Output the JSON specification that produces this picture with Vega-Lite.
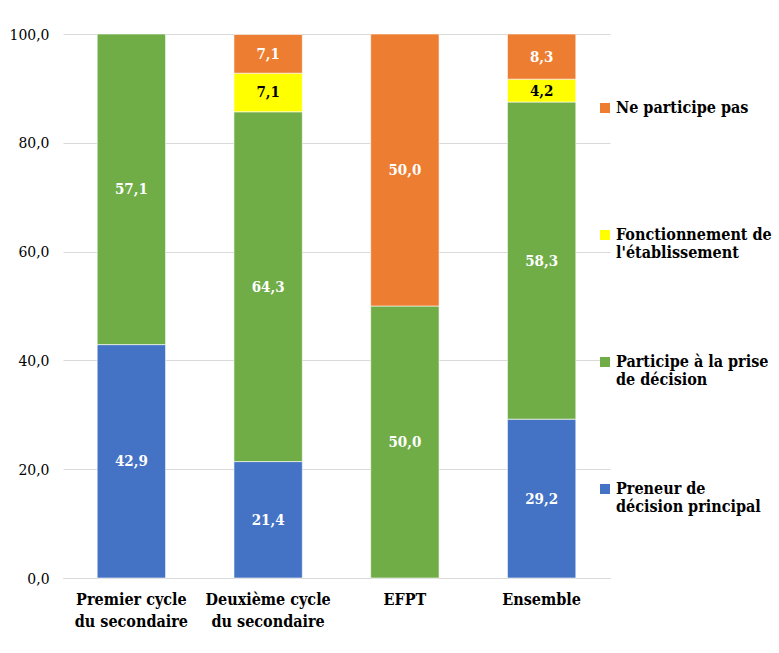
{
  "$schema": "https://vega.github.io/schema/vega-lite/v6.json",
  "width": 547,
  "height": 544,
  "autosize": {"type": "none"},
  "padding": {"left": 63, "top": 34, "right": 169, "bottom": 75},
  "background": "white",
  "config": {
    "locale": {"number": {"decimal": ",", "thousands": " ", "grouping": [3], "currency": ["", " €"]}},
    "view": {"stroke": null}
  },
  "data": {
    "values": [
      {"niveau": "Premier cycle du secondaire", "statut": "Preneur de décision principal", "rang": 1, "pct": 42.9},
      {"niveau": "Premier cycle du secondaire", "statut": "Participe à la prise de décision", "rang": 2, "pct": 57.1},
      {"niveau": "Deuxième cycle du secondaire", "statut": "Preneur de décision principal", "rang": 1, "pct": 21.4},
      {"niveau": "Deuxième cycle du secondaire", "statut": "Participe à la prise de décision", "rang": 2, "pct": 64.3},
      {"niveau": "Deuxième cycle du secondaire", "statut": "Fonctionnement de l'établissement", "rang": 3, "pct": 7.1},
      {"niveau": "Deuxième cycle du secondaire", "statut": "Ne participe pas", "rang": 4, "pct": 7.1},
      {"niveau": "EFPT", "statut": "Participe à la prise de décision", "rang": 2, "pct": 50.0},
      {"niveau": "EFPT", "statut": "Ne participe pas", "rang": 4, "pct": 50.0},
      {"niveau": "Ensemble", "statut": "Preneur de décision principal", "rang": 1, "pct": 29.2},
      {"niveau": "Ensemble", "statut": "Participe à la prise de décision", "rang": 2, "pct": 58.3},
      {"niveau": "Ensemble", "statut": "Fonctionnement de l'établissement", "rang": 3, "pct": 4.2},
      {"niveau": "Ensemble", "statut": "Ne participe pas", "rang": 4, "pct": 8.3}
    ]
  },
  "transform": [
    {"stack": "pct", "groupby": ["niveau"], "sort": [{"field": "rang", "order": "ascending"}], "as": ["y0", "y1"]},
    {"calculate": "(datum.y0 + datum.y1) / 2", "as": "ymid"}
  ],
  "encoding": {
    "x": {
      "field": "niveau",
      "type": "nominal",
      "sort": ["Premier cycle du secondaire", "Deuxième cycle du secondaire", "EFPT", "Ensemble"],
      "scale": {"paddingInner": 0.5, "paddingOuter": 0.25},
      "axis": {
        "title": null,
        "labelAngle": 0,
        "labelFont": "DejaVu Serif Condensed",
        "labelFontSize": 16,
        "labelFontWeight": "bold",
        "labelColor": "#000000",
        "labelPadding": 13,
        "labelLineHeight": 22,
        "labelBaseline": "top",
        "labelExpr": "datum.label == 'Premier cycle du secondaire' ? ['Premier cycle', 'du secondaire'] : datum.label == 'Deuxième cycle du secondaire' ? ['Deuxième cycle', 'du secondaire'] : datum.label",
        "ticks": false,
        "domainColor": "#D9D9D9",
        "domainWidth": 1,
        "grid": false
      }
    }
  },
  "layer": [
    {
      "mark": {"type": "bar", "stroke": "white", "strokeWidth": 0.6},
      "encoding": {
        "y": {
          "field": "y0",
          "type": "quantitative",
          "scale": {"domain": [0, 100], "nice": false},
          "axis": {
            "title": null,
            "values": [0, 20, 40, 60, 80, 100],
            "format": ".1f",
            "labelFont": "DejaVu Serif Condensed",
            "labelFontSize": 15.5,
            "labelColor": "#000000",
            "labelPadding": 14,
            "ticks": false,
            "domain": false,
            "gridColor": "#D9D9D9",
            "gridWidth": 1
          }
        },
        "y2": {"field": "y1"},
        "color": {
          "field": "statut",
          "type": "nominal",
          "scale": {
            "domain": ["Ne participe pas", "Fonctionnement de l'établissement", "Participe à la prise de décision", "Preneur de décision principal"],
            "range": ["#ED7D31", "#FFFF00", "#70AD47", "#4472C4"]
          },
          "legend": {
            "title": null,
            "orient": "none",
            "legendX": 534,
            "legendY": 66,
            "padding": 0,
            "symbolType": "square",
            "symbolSize": 100,
            "symbolStrokeWidth": 0,
            "labelFont": "DejaVu Serif Condensed",
            "labelFontSize": 16,
            "labelFontWeight": "bold",
            "labelColor": "#000000",
            "labelOffset": 3,
            "labelLimit": 300,
            "rowPadding": 93,
            "encode": {"labels": {"enter": {"lineHeight": {"value": 22}}, "update": {"lineHeight": {"value": 22}}}},
            "labelExpr": "datum.label == \"Fonctionnement de l'établissement\" ? ['Fonctionnement de', \"l'établissement\"] : datum.label == 'Participe à la prise de décision' ? ['Participe à la prise', 'de décision'] : datum.label == 'Preneur de décision principal' ? ['Preneur de', 'décision principal'] : [datum.label, ' ']"
          }
        }
      }
    },
    {
      "mark": {"type": "text", "fontWeight": "bold", "fontSize": 15, "baseline": "middle", "align": "center", "font": "DejaVu Serif Condensed"},
      "encoding": {
        "y": {"field": "ymid", "type": "quantitative"},
        "text": {"field": "pct", "type": "quantitative", "format": ".1f"},
        "color": {
          "condition": {"test": "datum.statut == \"Fonctionnement de l'établissement\"", "value": "#000000"},
          "value": "#FFFFFF"
        }
      }
    }
  ]
}
